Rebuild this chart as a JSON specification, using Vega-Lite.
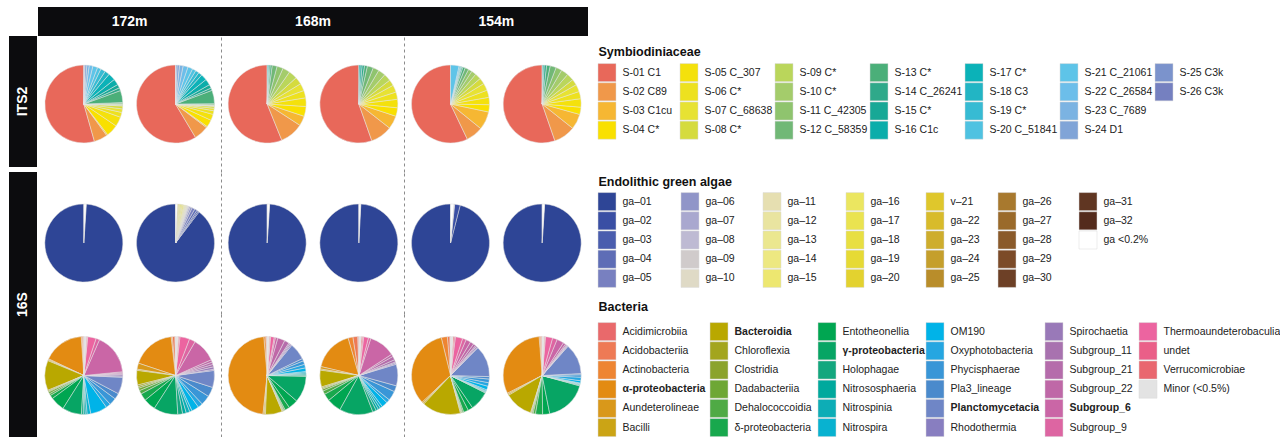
{
"$schema":"https://vega.github.io/schema/vega-lite/v6.json",
"padding":{"left":9,"top":7,"right":0,"bottom":0},
"config":{"view":{"stroke":null},"font":"Liberation Sans",
 "axisY":{"ticks":false,"tickSize":0,"domain":false,"labelPadding":6,"labelFontSize":10.5,"labelColor":"#222222","labelLimit":300,"labelFont":"Liberation Sans"}},
"datasets":{
"its2":[
{"k":1,"t":"S-01 C1","a1":54.4,"a2":58,"b1":55,"b2":55.3,"c1":56.7,"c2":55.3},
{"k":2,"t":"S-02 C89","a1":5.6,"a2":6,"b1":9.5,"b2":9,"c1":7,"c2":9},
{"k":3,"t":"S-03 C1cu","a1":0.5,"a2":0.5,"b1":4,"b2":5.5,"c1":7.5,"c2":6.4},
{"k":4,"t":"S-04 C*","a1":5,"a2":3,"b1":4,"b2":3.5,"c1":3,"c2":3},
{"k":5,"t":"S-05 C_307","a1":4,"a2":2.5,"b1":3.5,"b2":3.5,"c1":3,"c2":3.5},
{"k":6,"t":"S-06 C*","a1":2,"a2":1.5,"b1":3,"b2":3,"c1":3,"c2":3},
{"k":7,"t":"S-07 C_68638","a1":1.5,"a2":1,"b1":3,"b2":3,"c1":3,"c2":3},
{"k":8,"t":"S-08 C*","a1":1.2,"a2":0.8,"b1":3,"b2":2.5,"c1":2.5,"c2":2.5},
{"k":9,"t":"S-09 C*","a1":0.3,"a2":0.2,"b1":3.5,"b2":3,"c1":2.5,"c2":3},
{"k":10,"t":"S-10 C*","a1":0.3,"a2":0.2,"b1":3,"b2":3,"c1":2,"c2":3},
{"k":11,"t":"S-11 C_42305","a1":0.3,"a2":0.2,"b1":2.5,"b2":2.5,"c1":1.5,"c2":2.5},
{"k":12,"t":"S-12 C_58359","a1":0.5,"a2":0.5,"b1":2,"b2":2.5,"c1":1.5,"c2":2.5},
{"k":13,"t":"S-13 C*","a1":5,"a2":5.5,"b1":0.8,"b2":1.2,"c1":1,"c2":1.5},
{"k":14,"t":"S-14 C_26241","a1":1.2,"a2":1,"b1":0.5,"b2":1,"c1":0.5,"c2":1},
{"k":15,"t":"S-15 C*","a1":1.5,"a2":1.5,"b1":0.4,"b2":0.8,"c1":0.3,"c2":0.5},
{"k":16,"t":"S-16 C1c","a1":2.5,"a2":2.5,"b1":0.3,"b2":0.5,"c1":0.3,"c2":0.3},
{"k":17,"t":"S-17 C*","a1":3,"a2":2.5},
{"k":18,"t":"S-18 C3","a1":2,"a2":1.5},
{"k":19,"t":"S-19 C*","a1":2,"a2":1.5},
{"k":20,"t":"S-20 C_51841","a1":1.5,"a2":1.5,"c1":0.5},
{"k":21,"t":"S-21 C_21061","a1":2,"a2":2,"c1":3.5},
{"k":22,"t":"S-22 C_26584","a1":1.5,"a2":2},
{"k":23,"t":"S-23 C_7689","a1":1,"a2":1.5},
{"k":24,"t":"S-24 D1","a1":0.8,"a2":1},
{"k":25,"t":"S-25 C3k","a1":0.3,"a2":0.5},
{"k":26,"t":"S-26 C3k","a1":0.1,"a2":0.1}
],
"alg":[
{"k":1,"t":"ga–01","a1":99,"a2":89.5,"b1":99,"b2":99.2,"c1":96,"c2":99},
{"k":2,"t":"ga–02","a2":0.5,"c1":2.3},
{"k":3,"t":"ga–03","a2":0.6},
{"k":4,"t":"ga–04","a2":1},
{"k":5,"t":"ga–05","a2":1.2},
{"k":6,"t":"ga–06","a2":0.8},
{"k":7,"t":"ga–07","a2":0.6,"c1":0.3},
{"k":8,"t":"ga–08","a2":0.4},
{"k":9,"t":"ga–09","a2":0.2},
{"k":10,"t":"ga–10","a2":0.2},
{"k":11,"t":"ga–11","a2":0.3},
{"k":12,"t":"ga–12","a2":0.3},
{"k":13,"t":"ga–13","a2":0.4},
{"k":14,"t":"ga–14","a2":0.4},
{"k":15,"t":"ga–15","a2":0.6},
{"k":16,"t":"ga–16","a2":0.5},
{"k":17,"t":"ga–17","a2":0.5},
{"k":18,"t":"ga–18","a2":0.4},
{"k":19,"t":"ga–19","a2":0.3},
{"k":20,"t":"ga–20","a2":0.3},
{"k":21,"t":"v–21"},
{"k":22,"t":"ga–22"},
{"k":23,"t":"ga–23"},
{"k":24,"t":"ga–24"},
{"k":25,"t":"ga–25"},
{"k":26,"t":"ga–26"},
{"k":27,"t":"ga–27"},
{"k":28,"t":"ga–28"},
{"k":29,"t":"ga–29"},
{"k":30,"t":"ga–30"},
{"k":31,"t":"ga–31"},
{"k":32,"t":"ga–32"},
{"k":33,"t":"ga <0.2%","a1":1,"a2":0.8,"b1":1,"b2":0.8,"c1":1.4,"c2":1}
],
"bac":[
{"k":1,"t":"Acidimicrobiia","a1":0.3,"a2":0.3,"b1":0.3,"b2":0.5,"c1":0.3,"c2":0.3},
{"k":2,"t":"Acidobacteriia","a1":0.4,"a2":1,"b1":0.3,"b2":2,"c1":1,"c2":0.5},
{"k":3,"t":"Actinobacteria","a1":0.4,"a2":0.5,"b1":0.8,"b2":2,"c1":2.5,"c2":0.5},
{"k":4,"t":"α-proteobacteria","a1":17,"a2":18,"b1":47,"b2":17,"c1":33,"c2":32},
{"k":5,"t":"Aundeterolineae","a1":0.4,"a2":2.5,"b1":0.5,"b2":1,"c1":0.5,"c2":0.5},
{"k":6,"t":"Bacilli","a1":0.4,"a2":0.5,"b1":0.5,"b2":0.5,"c1":0.5,"c2":0.5},
{"k":7,"t":"Bacteroidia","a1":12.5,"a2":6,"b1":7,"b2":7,"c1":16,"c2":12},
{"k":8,"t":"Chloroflexia","a1":0.4,"a2":0.7,"b1":0.3,"b2":0.5,"c1":0.3,"c2":0.3},
{"k":9,"t":"Clostridia","a1":0.4,"a2":0.7,"b1":0.3,"b2":0.5,"c1":0.3,"c2":0.3},
{"k":10,"t":"Dadabacteriia","a1":0.8,"a2":1,"b1":0.3,"b2":0.8,"c1":0.3,"c2":0.5},
{"k":11,"t":"Dehalococcoidia","a1":0.8,"a2":1.5,"b1":0.5,"b2":1.5,"c1":0.5,"c2":1},
{"k":12,"t":"δ-proteobacteria","a1":1.5,"a2":3,"b1":2,"b2":3,"c1":2,"c2":3},
{"k":13,"t":"Entotheonellia","a1":6,"a2":5,"b1":4,"b2":6,"c1":2,"c2":3},
{"k":14,"t":"γ-proteobacteria","a1":8,"a2":10,"b1":11,"b2":14,"c1":8,"c2":18},
{"k":15,"t":"Holophagae","a1":0.8,"a2":2,"b1":0.5,"b2":1.5,"c1":0.3,"c2":0.3},
{"k":16,"t":"Nitrososphaeria","a1":0.8,"a2":1.5,"b1":0.5,"b2":1,"c1":0.3,"c2":0.3},
{"k":17,"t":"Nitrospinia","a1":0.8,"a2":1.5,"b1":0.5,"b2":1,"c1":0.3,"c2":0.3},
{"k":18,"t":"Nitrospira","a1":1.5,"a2":1,"b1":0.5,"b2":1,"c1":0.5,"c2":0.3},
{"k":19,"t":"OM190","a1":7,"a2":3,"b1":1.5,"b2":2.5,"c1":1.5,"c2":1},
{"k":20,"t":"Oxyphotobacteria","a1":2,"a2":2,"b1":1.5,"b2":1.5,"c1":1.5,"c2":1.5},
{"k":21,"t":"Phycisphaerae","a1":3,"a2":4,"b1":1.5,"b2":4,"c1":1.5,"c2":1},
{"k":22,"t":"Pla3_lineage","a1":2.5,"a2":4,"b1":1,"b2":2.5,"c1":1,"c2":0.5},
{"k":23,"t":"Planctomycetacia","a1":7,"a2":7,"b1":7,"b2":9,"c1":13,"c2":13},
{"k":24,"t":"Rhodothermia","a1":0.5,"a2":0.5,"b1":0.5,"b2":0.5,"c1":0.3,"c2":0.3},
{"k":25,"t":"Spirochaetia","a1":0.6,"a2":1,"b1":0.5,"b2":0.5,"c1":0.5,"c2":0.3},
{"k":26,"t":"Subgroup_11","a1":0.4,"a2":1,"b1":0.5,"b2":1,"c1":0.5,"c2":0.3},
{"k":27,"t":"Subgroup_21","a1":0.4,"a2":1,"b1":2,"b2":1.5,"c1":1,"c2":0.5},
{"k":28,"t":"Subgroup_22","a1":0.4,"a2":1,"b1":3,"b2":1,"c1":1.5,"c2":1},
{"k":29,"t":"Subgroup_6","a1":17,"a2":10,"b1":1,"b2":11,"c1":2,"c2":3},
{"k":30,"t":"Subgroup_9","a1":1.5,"a2":2.5,"b1":0.5,"b2":1,"c1":1.5,"c2":2},
{"k":31,"t":"Thermoaundeterobaculia","a1":3.5,"a2":4,"b1":1.5,"b2":2,"c1":3,"c2":3},
{"k":32,"t":"undet","a1":0.3,"a2":0.5,"b1":0.3,"b2":0.5,"c1":0.5,"c2":0.3},
{"k":33,"t":"Verrucomicrobiae","a1":0.3,"a2":0.3,"b1":0.3,"b2":0.5,"c1":0.5,"c2":0.3},
{"k":34,"t":"Minor (<0.5%)","a1":1,"a2":1,"b1":0.8,"b2":1,"c1":1,"c2":0.8}
]
},
"resolve":{"scale":{"color":"independent"}},
"spacing":9,
"hconcat":[
{"spacing":1,"resolve":{"scale":{"color":"independent"}},
 "hconcat":[
  {"spacing":5,"vconcat":[
    {"width":28,"height":24,"data":{"values":[{}]},"mark":"text","encoding":{"text":{"value":""}}},
    {"width":28,"height":131,"view":{"fill":"#0c0c0e","stroke":null},"data":{"values":[{"m":"ITS2"}]},"mark":{"type":"text","angle":270,"color":"#ffffff","fontWeight":"bold","fontSize":14,"align":"center","baseline":"middle"},"encoding":{"text":{"field":"m"}}},
    {"width":28,"height":265,"view":{"fill":"#0c0c0e","stroke":null},"data":{"values":[{"m":"16S"}]},"mark":{"type":"text","angle":270,"color":"#ffffff","fontWeight":"bold","fontSize":14,"align":"center","baseline":"middle"},"encoding":{"text":{"field":"m"}}}
  ]},
  {"spacing":0,"resolve":{"scale":{"color":"independent"}},"vconcat":[
    {"width":550,"height":29,"view":{"fill":"#0c0c0e","stroke":null},"data":{"values":[{"d":"172m"},{"d":"168m"},{"d":"154m"}]},"mark":{"type":"text","color":"#ffffff","fontWeight":"bold","fontSize":14,"baseline":"middle"},"encoding":{"x":{"field":"d","type":"nominal","scale":{"type":"band","domain":["172m","168m","154m"],"paddingInner":0,"paddingOuter":0},"axis":null},"text":{"field":"d"}}},
    {"width":550,"height":136,"data":{"name":"its2"},
     "transform":[{"fold":["a1","a2","b1","b2","c1","c2"],"as":["sample","v"]},{"filter":"datum.v > 0"},{"stack":"v","groupby":["sample"],"sort":[{"field":"k","order":"descending"}],"offset":"normalize","as":["t0","t1"]}],
     "mark":{"type":"arc","outerRadius":39,"stroke":"#e4e4e4","strokeWidth":0.5},
     "encoding":{
      "x":{"field":"sample","type":"nominal","scale":{"type":"band","domain":["a1","a2","b1","b2","c1","c2"],"paddingInner":0,"paddingOuter":0},"axis":{"values":["b1","c1"],"bandPosition":0,"grid":true,"gridDash":[3,3],"gridColor":"#8c8c8c","gridWidth":1,"labels":false,"ticks":false,"domain":false,"title":null}},
      "theta":{"field":"t0","type":"quantitative","scale":{"domain":[0,1],"nice":false,"zero":false}},
      "theta2":{"field":"t1"},
      "color":{"field":"t","type":"nominal","legend":null,"scale":{"domain":["S-01 C1","S-02 C89","S-03 C1cu","S-04 C*","S-05 C_307","S-06 C*","S-07 C_68638","S-08 C*","S-09 C*","S-10 C*","S-11 C_42305","S-12 C_58359","S-13 C*","S-14 C_26241","S-15 C*","S-16 C1c","S-17 C*","S-18 C3","S-19 C*","S-20 C_51841","S-21 C_21061","S-22 C_26584","S-23 C_7689","S-24 D1","S-25 C3k","S-26 C3k"],"range":["#E8685A","#F0984A","#F6B733","#F9E000","#F4E10C","#EDE11F","#E7E233","#D5DB3E","#BAD65B","#A4CC6B","#8FC46E","#71B876","#4BAF79","#2FA98A","#17A896","#0BADAA","#0BB2B8","#22B5C4","#37BBD3","#4FC2E1","#5EC4E8","#6CBEEA","#7BB3E2","#80A4D7","#7B93CC","#7580C0"]}}
     }},
    {"width":550,"height":142,"data":{"name":"alg"},
     "transform":[{"fold":["a1","a2","b1","b2","c1","c2"],"as":["sample","v"]},{"filter":"datum.v > 0"},{"stack":"v","groupby":["sample"],"sort":[{"field":"k","order":"descending"}],"offset":"normalize","as":["t0","t1"]}],
     "mark":{"type":"arc","outerRadius":39,"stroke":"#dddddd","strokeWidth":0.5},
     "encoding":{
      "x":{"field":"sample","type":"nominal","scale":{"type":"band","domain":["a1","a2","b1","b2","c1","c2"],"paddingInner":0,"paddingOuter":0},"axis":{"values":["b1","c1"],"bandPosition":0,"grid":true,"gridDash":[3,3],"gridColor":"#8c8c8c","gridWidth":1,"labels":false,"ticks":false,"domain":false,"title":null}},
      "theta":{"field":"t0","type":"quantitative","scale":{"domain":[0,1],"nice":false,"zero":false}},
      "theta2":{"field":"t1"},
      "color":{"field":"t","type":"nominal","legend":null,"scale":{"domain":["ga–01","ga–02","ga–03","ga–04","ga–05","ga–06","ga–07","ga–08","ga–09","ga–10","ga–11","ga–12","ga–13","ga–14","ga–15","ga–16","ga–17","ga–18","ga–19","ga–20","v–21","ga–22","ga–23","ga–24","ga–25","ga–26","ga–27","ga–28","ga–29","ga–30","ga–31","ga–32","ga <0.2%"],"range":["#2E4596","#3A4FA4","#4A5DAE","#5E6DB6","#7880C0","#9095C8","#A9A8CF","#BEBAD3","#D0CBCB","#DFDAC6","#E6DFB1","#E9E4A0","#EBE78F","#EDE881","#EDE770","#EBE660","#EAE350","#E8DF42","#E6DA35","#E3D22F","#DFC72C","#D8BB2B","#CEAD2D","#C59F2C","#B98D2A","#A8792E","#9A6A2A","#8A5A2A","#7C4B28","#6D4026","#603622","#542B1C","#FFFFFF"]}}
     }},
    {"width":550,"height":123,"data":{"name":"bac"},
     "transform":[{"fold":["a1","a2","b1","b2","c1","c2"],"as":["sample","v"]},{"filter":"datum.v > 0"},{"stack":"v","groupby":["sample"],"sort":[{"field":"k","order":"descending"}],"offset":"normalize","as":["t0","t1"]}],
     "mark":{"type":"arc","outerRadius":39,"stroke":"#e4e4e4","strokeWidth":0.5},
     "encoding":{
      "x":{"field":"sample","type":"nominal","scale":{"type":"band","domain":["a1","a2","b1","b2","c1","c2"],"paddingInner":0,"paddingOuter":0},"axis":{"values":["b1","c1"],"bandPosition":0,"grid":true,"gridDash":[3,3],"gridColor":"#8c8c8c","gridWidth":1,"labels":false,"ticks":false,"domain":false,"title":null}},
      "theta":{"field":"t0","type":"quantitative","scale":{"domain":[0,1],"nice":false,"zero":false}},
      "theta2":{"field":"t1"},
      "color":{"field":"t","type":"nominal","legend":null,"scale":{"domain":["Acidimicrobiia","Acidobacteriia","Actinobacteria","α-proteobacteria","Aundeterolineae","Bacilli","Bacteroidia","Chloroflexia","Clostridia","Dadabacteriia","Dehalococcoidia","δ-proteobacteria","Entotheonellia","γ-proteobacteria","Holophagae","Nitrososphaeria","Nitrospinia","Nitrospira","OM190","Oxyphotobacteria","Phycisphaerae","Pla3_lineage","Planctomycetacia","Rhodothermia","Spirochaetia","Subgroup_11","Subgroup_21","Subgroup_22","Subgroup_6","Subgroup_9","Thermoaundeterobaculia","undet","Verrucomicrobiae","Minor (<0.5%)"],"range":["#E9696B","#EE7A55","#EE8532","#E38B12","#D9981A","#CBA415","#B9A800","#A3A51E","#8BA32D","#6EA735","#4FAA45","#18A84D","#00A651","#07A564","#13A77E","#00A99D","#0DADB6","#08B2D0","#00B3E8","#25A6E1","#3996D7","#4A8ACC","#6F86C6","#887EC0","#9979B8","#A872AF","#B56CAB","#BF68A7","#CA66A6","#DD65A2","#EC64A0","#EA5F88","#E9676F","#E3E3E3"]}}
     }}
  ]}
 ]},
{"spacing":0,"resolve":{"scale":{"color":"independent"}},"vconcat":[
  {"width":10,"height":34,"data":{"values":[{}]},"mark":"text","encoding":{"text":{"value":""}}},
  {"width":1,"height":22,"data":{"values":[{"s":"Symbiodiniaceae"}]},"mark":{"type":"text","align":"left","baseline":"middle","fontWeight":"bold","fontSize":12.5,"color":"#111111"},"encoding":{"text":{"field":"s"}}},
  {"bounds":"flush","spacing":0,"resolve":{"scale":{"color":"independent"}},"hconcat":[
    {"width":18,"height":76.8,"data":{"name":"its2"},"transform":[{"filter":{"field":"t","oneOf":["S-01 C1","S-02 C89","S-03 C1cu","S-04 C*"]}}],"mark":{"type":"rect","stroke":"#dadada","strokeWidth":0.5},"encoding":{"y":{"field":"t","type":"nominal","scale":{"domain":["S-01 C1","S-02 C89","S-03 C1cu","S-04 C*"],"paddingInner":0.06,"paddingOuter":0.03},"axis":{"orient":"right","title":null}},"color":{"field":"t","type":"nominal","legend":null,"scale":{"domain":["S-01 C1","S-02 C89","S-03 C1cu","S-04 C*"],"range":["#E8685A","#F0984A","#F6B733","#F9E000"]}}}},
    {"width":64,"height":76.8,"data":{"values":[{}]},"mark":"text","encoding":{"text":{"value":""}}},
    {"width":18,"height":76.8,"data":{"name":"its2"},"transform":[{"filter":{"field":"t","oneOf":["S-05 C_307","S-06 C*","S-07 C_68638","S-08 C*"]}}],"mark":{"type":"rect","stroke":"#dadada","strokeWidth":0.5},"encoding":{"y":{"field":"t","type":"nominal","scale":{"domain":["S-05 C_307","S-06 C*","S-07 C_68638","S-08 C*"],"paddingInner":0.06,"paddingOuter":0.03},"axis":{"orient":"right","title":null}},"color":{"field":"t","type":"nominal","legend":null,"scale":{"domain":["S-05 C_307","S-06 C*","S-07 C_68638","S-08 C*"],"range":["#F4E10C","#EDE11F","#E7E233","#D5DB3E"]}}}},
    {"width":77,"height":76.8,"data":{"values":[{}]},"mark":"text","encoding":{"text":{"value":""}}},
    {"width":18,"height":76.8,"data":{"name":"its2"},"transform":[{"filter":{"field":"t","oneOf":["S-09 C*","S-10 C*","S-11 C_42305","S-12 C_58359"]}}],"mark":{"type":"rect","stroke":"#dadada","strokeWidth":0.5},"encoding":{"y":{"field":"t","type":"nominal","scale":{"domain":["S-09 C*","S-10 C*","S-11 C_42305","S-12 C_58359"],"paddingInner":0.06,"paddingOuter":0.03},"axis":{"orient":"right","title":null}},"color":{"field":"t","type":"nominal","legend":null,"scale":{"domain":["S-09 C*","S-10 C*","S-11 C_42305","S-12 C_58359"],"range":["#BAD65B","#A4CC6B","#8FC46E","#71B876"]}}}},
    {"width":77,"height":76.8,"data":{"values":[{}]},"mark":"text","encoding":{"text":{"value":""}}},
    {"width":18,"height":76.8,"data":{"name":"its2"},"transform":[{"filter":{"field":"t","oneOf":["S-13 C*","S-14 C_26241","S-15 C*","S-16 C1c"]}}],"mark":{"type":"rect","stroke":"#dadada","strokeWidth":0.5},"encoding":{"y":{"field":"t","type":"nominal","scale":{"domain":["S-13 C*","S-14 C_26241","S-15 C*","S-16 C1c"],"paddingInner":0.06,"paddingOuter":0.03},"axis":{"orient":"right","title":null}},"color":{"field":"t","type":"nominal","legend":null,"scale":{"domain":["S-13 C*","S-14 C_26241","S-15 C*","S-16 C1c"],"range":["#4BAF79","#2FA98A","#17A896","#0BADAA"]}}}},
    {"width":77,"height":76.8,"data":{"values":[{}]},"mark":"text","encoding":{"text":{"value":""}}},
    {"width":18,"height":76.8,"data":{"name":"its2"},"transform":[{"filter":{"field":"t","oneOf":["S-17 C*","S-18 C3","S-19 C*","S-20 C_51841"]}}],"mark":{"type":"rect","stroke":"#dadada","strokeWidth":0.5},"encoding":{"y":{"field":"t","type":"nominal","scale":{"domain":["S-17 C*","S-18 C3","S-19 C*","S-20 C_51841"],"paddingInner":0.06,"paddingOuter":0.03},"axis":{"orient":"right","title":null}},"color":{"field":"t","type":"nominal","legend":null,"scale":{"domain":["S-17 C*","S-18 C3","S-19 C*","S-20 C_51841"],"range":["#0BB2B8","#22B5C4","#37BBD3","#4FC2E1"]}}}},
    {"width":77,"height":76.8,"data":{"values":[{}]},"mark":"text","encoding":{"text":{"value":""}}},
    {"width":18,"height":76.8,"data":{"name":"its2"},"transform":[{"filter":{"field":"t","oneOf":["S-21 C_21061","S-22 C_26584","S-23 C_7689","S-24 D1"]}}],"mark":{"type":"rect","stroke":"#dadada","strokeWidth":0.5},"encoding":{"y":{"field":"t","type":"nominal","scale":{"domain":["S-21 C_21061","S-22 C_26584","S-23 C_7689","S-24 D1"],"paddingInner":0.06,"paddingOuter":0.03},"axis":{"orient":"right","title":null}},"color":{"field":"t","type":"nominal","legend":null,"scale":{"domain":["S-21 C_21061","S-22 C_26584","S-23 C_7689","S-24 D1"],"range":["#5EC4E8","#6CBEEA","#7BB3E2","#80A4D7"]}}}},
    {"width":77,"height":76.8,"data":{"values":[{}]},"mark":"text","encoding":{"text":{"value":""}}},
    {"width":18,"height":38.4,"data":{"name":"its2"},"transform":[{"filter":{"field":"t","oneOf":["S-25 C3k","S-26 C3k"]}}],"mark":{"type":"rect","stroke":"#dadada","strokeWidth":0.5},"encoding":{"y":{"field":"t","type":"nominal","scale":{"domain":["S-25 C3k","S-26 C3k"],"paddingInner":0.06,"paddingOuter":0.03},"axis":{"orient":"right","title":null}},"color":{"field":"t","type":"nominal","legend":null,"scale":{"domain":["S-25 C3k","S-26 C3k"],"range":["#7B93CC","#7580C0"]}}}}
  ]},
  {"width":10,"height":32,"data":{"values":[{}]},"mark":"text","encoding":{"text":{"value":""}}},
  {"width":1,"height":20,"data":{"values":[{"s":"Endolithic green algae"}]},"mark":{"type":"text","align":"left","baseline":"middle","fontWeight":"bold","fontSize":12.5,"color":"#111111"},"encoding":{"text":{"field":"s"}}},
  {"bounds":"flush","spacing":0,"resolve":{"scale":{"color":"independent"}},"hconcat":[
    {"width":18,"height":96,"data":{"name":"alg"},"transform":[{"filter":{"field":"t","oneOf":["ga–01","ga–02","ga–03","ga–04","ga–05"]}}],"mark":{"type":"rect","stroke":"#dadada","strokeWidth":0.5},"encoding":{"y":{"field":"t","type":"nominal","scale":{"domain":["ga–01","ga–02","ga–03","ga–04","ga–05"],"paddingInner":0.06,"paddingOuter":0.03},"axis":{"orient":"right","title":null}},"color":{"field":"t","type":"nominal","legend":null,"scale":{"domain":["ga–01","ga–02","ga–03","ga–04","ga–05"],"range":["#2E4596","#3A4FA4","#4A5DAE","#5E6DB6","#7880C0"]}}}},
    {"width":65,"height":96,"data":{"values":[{}]},"mark":"text","encoding":{"text":{"value":""}}},
    {"width":18,"height":96,"data":{"name":"alg"},"transform":[{"filter":{"field":"t","oneOf":["ga–06","ga–07","ga–08","ga–09","ga–10"]}}],"mark":{"type":"rect","stroke":"#dadada","strokeWidth":0.5},"encoding":{"y":{"field":"t","type":"nominal","scale":{"domain":["ga–06","ga–07","ga–08","ga–09","ga–10"],"paddingInner":0.06,"paddingOuter":0.03},"axis":{"orient":"right","title":null}},"color":{"field":"t","type":"nominal","legend":null,"scale":{"domain":["ga–06","ga–07","ga–08","ga–09","ga–10"],"range":["#9095C8","#A9A8CF","#BEBAD3","#D0CBCB","#DFDAC6"]}}}},
    {"width":64,"height":96,"data":{"values":[{}]},"mark":"text","encoding":{"text":{"value":""}}},
    {"width":18,"height":96,"data":{"name":"alg"},"transform":[{"filter":{"field":"t","oneOf":["ga–11","ga–12","ga–13","ga–14","ga–15"]}}],"mark":{"type":"rect","stroke":"#dadada","strokeWidth":0.5},"encoding":{"y":{"field":"t","type":"nominal","scale":{"domain":["ga–11","ga–12","ga–13","ga–14","ga–15"],"paddingInner":0.06,"paddingOuter":0.03},"axis":{"orient":"right","title":null}},"color":{"field":"t","type":"nominal","legend":null,"scale":{"domain":["ga–11","ga–12","ga–13","ga–14","ga–15"],"range":["#E6DFB1","#E9E4A0","#EBE78F","#EDE881","#EDE770"]}}}},
    {"width":65,"height":96,"data":{"values":[{}]},"mark":"text","encoding":{"text":{"value":""}}},
    {"width":18,"height":96,"data":{"name":"alg"},"transform":[{"filter":{"field":"t","oneOf":["ga–16","ga–17","ga–18","ga–19","ga–20"]}}],"mark":{"type":"rect","stroke":"#dadada","strokeWidth":0.5},"encoding":{"y":{"field":"t","type":"nominal","scale":{"domain":["ga–16","ga–17","ga–18","ga–19","ga–20"],"paddingInner":0.06,"paddingOuter":0.03},"axis":{"orient":"right","title":null}},"color":{"field":"t","type":"nominal","legend":null,"scale":{"domain":["ga–16","ga–17","ga–18","ga–19","ga–20"],"range":["#EBE660","#EAE350","#E8DF42","#E6DA35","#E3D22F"]}}}},
    {"width":62,"height":96,"data":{"values":[{}]},"mark":"text","encoding":{"text":{"value":""}}},
    {"width":18,"height":96,"data":{"name":"alg"},"transform":[{"filter":{"field":"t","oneOf":["v–21","ga–22","ga–23","ga–24","ga–25"]}}],"mark":{"type":"rect","stroke":"#dadada","strokeWidth":0.5},"encoding":{"y":{"field":"t","type":"nominal","scale":{"domain":["v–21","ga–22","ga–23","ga–24","ga–25"],"paddingInner":0.06,"paddingOuter":0.03},"axis":{"orient":"right","title":null}},"color":{"field":"t","type":"nominal","legend":null,"scale":{"domain":["v–21","ga–22","ga–23","ga–24","ga–25"],"range":["#DFC72C","#D8BB2B","#CEAD2D","#C59F2C","#B98D2A"]}}}},
    {"width":54,"height":96,"data":{"values":[{}]},"mark":"text","encoding":{"text":{"value":""}}},
    {"width":18,"height":96,"data":{"name":"alg"},"transform":[{"filter":{"field":"t","oneOf":["ga–26","ga–27","ga–28","ga–29","ga–30"]}}],"mark":{"type":"rect","stroke":"#dadada","strokeWidth":0.5},"encoding":{"y":{"field":"t","type":"nominal","scale":{"domain":["ga–26","ga–27","ga–28","ga–29","ga–30"],"paddingInner":0.06,"paddingOuter":0.03},"axis":{"orient":"right","title":null}},"color":{"field":"t","type":"nominal","legend":null,"scale":{"domain":["ga–26","ga–27","ga–28","ga–29","ga–30"],"range":["#A8792E","#9A6A2A","#8A5A2A","#7C4B28","#6D4026"]}}}},
    {"width":63,"height":96,"data":{"values":[{}]},"mark":"text","encoding":{"text":{"value":""}}},
    {"width":18,"height":57.6,"data":{"name":"alg"},"transform":[{"filter":{"field":"t","oneOf":["ga–31","ga–32","ga <0.2%"]}}],"mark":{"type":"rect","stroke":"#dadada","strokeWidth":0.5},"encoding":{"y":{"field":"t","type":"nominal","scale":{"domain":["ga–31","ga–32","ga <0.2%"],"paddingInner":0.06,"paddingOuter":0.03},"axis":{"orient":"right","title":null}},"color":{"field":"t","type":"nominal","legend":null,"scale":{"domain":["ga–31","ga–32","ga <0.2%"],"range":["#603622","#542B1C","#FFFFFF"]}}}}
  ]},
  {"width":1,"height":34,"data":{"values":[{"s":"Bacteria"}]},"mark":{"type":"text","align":"left","baseline":"middle","fontWeight":"bold","fontSize":12.5,"color":"#111111","dy":2},"encoding":{"text":{"field":"s"}}},
  {"bounds":"flush","spacing":0,"resolve":{"scale":{"color":"independent"}},"hconcat":[
    {"width":18,"height":115.2,"data":{"name":"bac"},"transform":[{"filter":{"field":"t","oneOf":["Acidimicrobiia","Acidobacteriia","Actinobacteria","α-proteobacteria","Aundeterolineae","Bacilli"]}}],"mark":{"type":"rect","stroke":"#dadada","strokeWidth":0.5},"encoding":{"y":{"field":"t","type":"nominal","scale":{"domain":["Acidimicrobiia","Acidobacteriia","Actinobacteria","α-proteobacteria","Aundeterolineae","Bacilli"],"paddingInner":0.06,"paddingOuter":0.03},"axis":{"orient":"right","title":null,"labelFontWeight":{"condition":{"test":"datum.value === 'α-proteobacteria'","value":"bold"},"value":"normal"}}},"color":{"field":"t","type":"nominal","legend":null,"scale":{"domain":["Acidimicrobiia","Acidobacteriia","Actinobacteria","α-proteobacteria","Aundeterolineae","Bacilli"],"range":["#E9696B","#EE7A55","#EE8532","#E38B12","#D9981A","#CBA415"]}}}},
    {"width":94,"height":115.2,"data":{"values":[{}]},"mark":"text","encoding":{"text":{"value":""}}},
    {"width":18,"height":115.2,"data":{"name":"bac"},"transform":[{"filter":{"field":"t","oneOf":["Bacteroidia","Chloroflexia","Clostridia","Dadabacteriia","Dehalococcoidia","δ-proteobacteria"]}}],"mark":{"type":"rect","stroke":"#dadada","strokeWidth":0.5},"encoding":{"y":{"field":"t","type":"nominal","scale":{"domain":["Bacteroidia","Chloroflexia","Clostridia","Dadabacteriia","Dehalococcoidia","δ-proteobacteria"],"paddingInner":0.06,"paddingOuter":0.03},"axis":{"orient":"right","title":null,"labelFontWeight":{"condition":{"test":"datum.value === 'Bacteroidia'","value":"bold"},"value":"normal"}}},"color":{"field":"t","type":"nominal","legend":null,"scale":{"domain":["Bacteroidia","Chloroflexia","Clostridia","Dadabacteriia","Dehalococcoidia","δ-proteobacteria"],"range":["#B9A800","#A3A51E","#8BA32D","#6EA735","#4FAA45","#18A84D"]}}}},
    {"width":90,"height":115.2,"data":{"values":[{}]},"mark":"text","encoding":{"text":{"value":""}}},
    {"width":18,"height":115.2,"data":{"name":"bac"},"transform":[{"filter":{"field":"t","oneOf":["Entotheonellia","γ-proteobacteria","Holophagae","Nitrososphaeria","Nitrospinia","Nitrospira"]}}],"mark":{"type":"rect","stroke":"#dadada","strokeWidth":0.5},"encoding":{"y":{"field":"t","type":"nominal","scale":{"domain":["Entotheonellia","γ-proteobacteria","Holophagae","Nitrososphaeria","Nitrospinia","Nitrospira"],"paddingInner":0.06,"paddingOuter":0.03},"axis":{"orient":"right","title":null,"labelFontWeight":{"condition":{"test":"datum.value === 'γ-proteobacteria'","value":"bold"},"value":"normal"}}},"color":{"field":"t","type":"nominal","legend":null,"scale":{"domain":["Entotheonellia","γ-proteobacteria","Holophagae","Nitrososphaeria","Nitrospinia","Nitrospira"],"range":["#00A651","#07A564","#13A77E","#00A99D","#0DADB6","#08B2D0"]}}}},
    {"width":90,"height":115.2,"data":{"values":[{}]},"mark":"text","encoding":{"text":{"value":""}}},
    {"width":18,"height":115.2,"data":{"name":"bac"},"transform":[{"filter":{"field":"t","oneOf":["OM190","Oxyphotobacteria","Phycisphaerae","Pla3_lineage","Planctomycetacia","Rhodothermia"]}}],"mark":{"type":"rect","stroke":"#dadada","strokeWidth":0.5},"encoding":{"y":{"field":"t","type":"nominal","scale":{"domain":["OM190","Oxyphotobacteria","Phycisphaerae","Pla3_lineage","Planctomycetacia","Rhodothermia"],"paddingInner":0.06,"paddingOuter":0.03},"axis":{"orient":"right","title":null,"labelFontWeight":{"condition":{"test":"datum.value === 'Planctomycetacia'","value":"bold"},"value":"normal"}}},"color":{"field":"t","type":"nominal","legend":null,"scale":{"domain":["OM190","Oxyphotobacteria","Phycisphaerae","Pla3_lineage","Planctomycetacia","Rhodothermia"],"range":["#00B3E8","#25A6E1","#3996D7","#4A8ACC","#6F86C6","#887EC0"]}}}},
    {"width":101,"height":115.2,"data":{"values":[{}]},"mark":"text","encoding":{"text":{"value":""}}},
    {"width":18,"height":115.2,"data":{"name":"bac"},"transform":[{"filter":{"field":"t","oneOf":["Spirochaetia","Subgroup_11","Subgroup_21","Subgroup_22","Subgroup_6","Subgroup_9"]}}],"mark":{"type":"rect","stroke":"#dadada","strokeWidth":0.5},"encoding":{"y":{"field":"t","type":"nominal","scale":{"domain":["Spirochaetia","Subgroup_11","Subgroup_21","Subgroup_22","Subgroup_6","Subgroup_9"],"paddingInner":0.06,"paddingOuter":0.03},"axis":{"orient":"right","title":null,"labelFontWeight":{"condition":{"test":"datum.value === 'Subgroup_6'","value":"bold"},"value":"normal"}}},"color":{"field":"t","type":"nominal","legend":null,"scale":{"domain":["Spirochaetia","Subgroup_11","Subgroup_21","Subgroup_22","Subgroup_6","Subgroup_9"],"range":["#9979B8","#A872AF","#B56CAB","#BF68A7","#CA66A6","#DD65A2"]}}}},
    {"width":76,"height":115.2,"data":{"values":[{}]},"mark":"text","encoding":{"text":{"value":""}}},
    {"width":18,"height":76.8,"data":{"name":"bac"},"transform":[{"filter":{"field":"t","oneOf":["Thermoaundeterobaculia","undet","Verrucomicrobiae","Minor (<0.5%)"]}}],"mark":{"type":"rect","stroke":"#dadada","strokeWidth":0.5},"encoding":{"y":{"field":"t","type":"nominal","scale":{"domain":["Thermoaundeterobaculia","undet","Verrucomicrobiae","Minor (<0.5%)"],"paddingInner":0.06,"paddingOuter":0.03},"axis":{"orient":"right","title":null}},"color":{"field":"t","type":"nominal","legend":null,"scale":{"domain":["Thermoaundeterobaculia","undet","Verrucomicrobiae","Minor (<0.5%)"],"range":["#EC64A0","#EA5F88","#E9676F","#E3E3E3"]}}}}
  ]}
]}
]
}
